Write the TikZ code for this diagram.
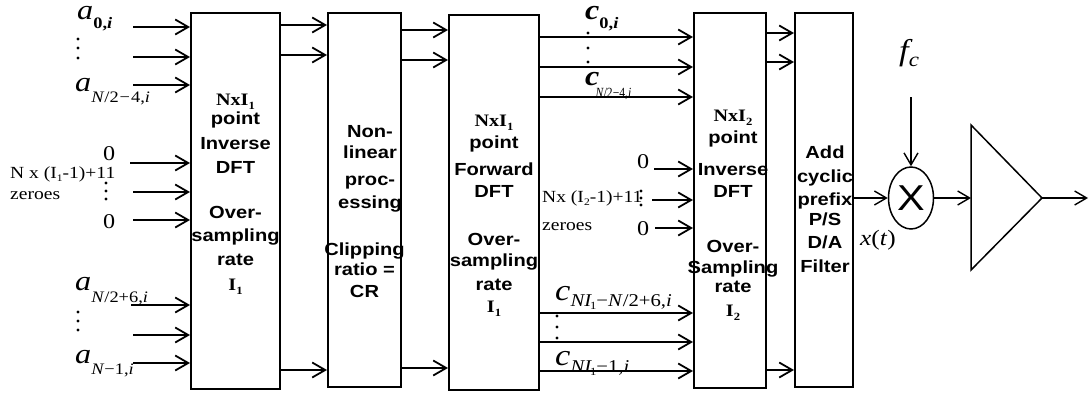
\documentclass[tikz,border=0pt]{standalone}
\usepackage{fontspec}
\setmainfont{Liberation Serif}[FakeStretch=1.15]
\newfontfamily\sansf{Liberation Sans}[FakeStretch=1.15]
\usetikzlibrary{arrows.meta,shapes.geometric}
\newcommand\NxIsub[1]{{\rmfamily\bfseries NxI\raisebox{-4pt}{\fontsize{11}{11}\selectfont #1}}}
\newcommand\Isb[1]{{\rmfamily\bfseries I\raisebox{-4pt}{\fontsize{11}{11}\selectfont #1}}}
\newcommand\biglab[4]{{\fontsize{#1}{#1}\selectfont\itshape #2}\raisebox{-#3pt}{\fontsize{16}{16}\selectfont #4}}
\begin{document}
\begin{tikzpicture}[x=1pt,y=-1pt,
  blk/.style={draw, line width=2pt, inner sep=0pt},
  arr/.style={line width=1.8pt, -{Straight Barb[length=13pt,width=15pt]}},
  arr2/.style={line width=1.4pt, -{Straight Barb[length=12pt,width=14pt]}},
  bt/.style={anchor=base, inner sep=0pt, font=\sansf\bfseries\fontsize{17.5}{20}\selectfont},
  lab/.style={anchor=base west, inner sep=0pt}]
\useasboundingbox (0,0) rectangle (1089,396);
% boxes
\node[blk, minimum width=89pt, minimum height=376pt] (b1) at (235.5,201) {};
\node[blk, minimum width=73pt, minimum height=374pt] (b2) at (364.5,200) {};
\node[blk, minimum width=90pt, minimum height=375pt] (b3) at (494,202.5) {};
\node[blk, minimum width=72pt, minimum height=375pt] (b4) at (730,200.5) {};
\node[blk, minimum width=58pt, minimum height=374pt] (b5) at (824,200) {};
% box texts
\foreach \t/\y [count=\k] in {{\NxIsub{1}}/105, point/124, Inverse/149, DFT/173, Over-/218, sampling/241, rate/265, {\Isb{1}}/290}
  \node[bt] (tA\k) at (235.5,\y) {\t};
\foreach \t/\y [count=\k] in {Non-/137, linear/158, proc-/185, essing/208}
  \node[bt] (tB\k) at (370,\y) {\t};
\foreach \t/\y [count=\k] in {Clipping/255, ratio =/275, CR/297}
  \node[bt] (tC\k) at (364.5,\y) {\t};
\foreach \t/\y [count=\k] in {{\NxIsub{1}}/126, point/148, Forward/175, DFT/197, Over-/245, sampling/266, rate/290, {\Isb{1}}/312}
  \node[bt] (tD\k) at (494,\y) {\t};
\foreach \t/\y [count=\k] in {{\NxIsub{2}}/121, point/143, Inverse/175, DFT/197, Over-/252, Sampling/273, rate/292, {\Isb{2}}/316}
  \node[bt] (tE\k) at (733,\y) {\t};
\foreach \t/\y [count=\k] in {Add/158, cyclic/182, prefix/205, {P/S}/225, {D/A}/248, Filter/272}
  \node[bt] (tF\k) at (825,\y) {\t};
% inputs to box 1
\foreach \y/\x [count=\k] in {27/133,57/133,85/133,163/130,192/133,220/133,305/131,335/133,363/133} {
  \coordinate (in\k) at (\x,\y);
  \draw[arr] (in\k) -- (in\k -| b1.west);
}
% box1 -> box2, box2 -> box3
\foreach \y [count=\k] in {25,55,370} {
  \coordinate (p\k) at (b1.east |- 0,\y);
  \draw[arr] (p\k) -- (p\k -| b2.west);
}
\foreach \y [count=\k] in {30,60,368} {
  \coordinate (q\k) at (b2.east |- 0,\y);
  \draw[arr] (q\k) -- (q\k -| b3.west);
}
% box3 -> box4
\foreach \y [count=\k] in {37,67,97,313,342,371} {
  \coordinate (r\k) at (b3.east |- 0,\y);
  \draw[arr] (r\k) -- (r\k -| b4.west);
}
% zero inputs to box4
\foreach \y/\x [count=\k] in {169/654,200/652,228/655} {
  \coordinate (z\k) at (\x,\y);
  \draw[arr] (z\k) -- (z\k -| b4.west);
}
% box4 -> box5
\foreach \y [count=\k] in {33,62,370} {
  \coordinate (s\k) at (b4.east |- 0,\y);
  \draw[arr] (s\k) -- (s\k -| b5.west);
}
% left labels
\node[lab] (la1) at (77,20) {\biglab{28}{a}{9}{\bfseries 0,\textit{i}}};
\node[lab] (la2) at (75,91) {\biglab{28}{a}{11}{\textit{N}/2\kern1pt\textminus\kern1pt 4,\textit{i}}};
\node[lab] (la3) at (75,290) {\biglab{28}{a}{12}{\textit{N}/2+6,\textit{i}}};
\node[lab] (la4) at (75,363) {\biglab{28}{a}{11}{\textit{N}\textminus1,\textit{i}}};
\node[lab, font=\fontsize{21}{21}\selectfont] (z0a) at (103,160) {0};
\node[lab, font=\fontsize{21}{21}\selectfont] (z0b) at (103,228) {0};
\node[lab, font=\fontsize{17}{17}\selectfont] (zl1) at (10,178) {N x (I\raisebox{-3pt}{\fontsize{10}{10}\selectfont 1}-1)+11};
\node[lab, font=\fontsize{17}{17}\selectfont] (zl2) at (10,199) {zeroes};
% dots
\foreach \x/\y in {78/39,78/48,78/58, 106/183,106/191,106/199, 78/312,78/321,78/330,
                   588/33,588/48,588/62, 557/316,557/327,557/338, 641/191,641/198,641/205}
  \fill (\x,\y) circle (1.7pt);
% c labels
\node[lab] (lc1) at (585,20) {\biglab{28}{\bfseries c}{9}{\bfseries 0,\textit{i}}};
\node[lab] (lc2) at (585,85) {{\fontsize{28}{28}\selectfont\itshape\bfseries c}\kern-4pt\raisebox{-12pt}{\scalebox{0.72}[1]{\fontsize{14}{14}\selectfont\textit{N}/2\textminus4,\textit{i}}}};
\node[lab] (lc3) at (555,300) {{\fontsize{30}{30}\selectfont\itshape c}\raisebox{-6pt}{\fontsize{18}{18}\selectfont\textit{NI}\kern-2pt\raisebox{-3pt}{\fontsize{11}{11}\selectfont 1}\textminus\textit{N}/2+6,\textit{i}}};
\node[lab] (lc4) at (555,365) {{\fontsize{30}{30}\selectfont\itshape c}\raisebox{-7pt}{\fontsize{18}{18}\selectfont\textit{NI}\kern-2pt\raisebox{-3pt}{\fontsize{11}{11}\selectfont 1}\textminus1,\textit{i}}};
% zero labels box4
\node[lab, font=\fontsize{21}{21}\selectfont] (z4a) at (637,168) {0};
\node[lab, font=\fontsize{21}{21}\selectfont] (z4b) at (637,235) {0};
\node[lab, font=\fontsize{17}{17}\selectfont] (zl3) at (542,202) {Nx (I\raisebox{-3pt}{\fontsize{10}{10}\selectfont 2}-1)+11};
\node[lab, font=\fontsize{17}{17}\selectfont] (zl4) at (542,230) {zeroes};
% mixer
\node[draw, ellipse, line width=1.5pt, minimum width=45pt, minimum height=62pt, inner sep=0pt,
      font=\sansf\fontsize{36}{36}\selectfont] (mx) at (911,198) {X};
\node[lab] (fc) at (899,60) {{\fontsize{30}{30}\selectfont\itshape f}\raisebox{-6pt}{\fontsize{20}{20}\selectfont\itshape c}};
\coordinate (fctop) at (911,97);
\draw[arr2] (fctop) -- (mx.north);
\draw[arr2] (b5.east |- mx.west) -- (mx.west);
\node[lab, font=\fontsize{22}{22}\selectfont] (xt) at (860,245) {\textit{x}(\textit{t})};
% amplifier
\coordinate (tA) at (971,125);
\coordinate (tB) at (971,270);
\coordinate (tC) at (1042,198);
\draw[line width=1.5pt, line join=miter] (tA) -- (tB) -- (tC) -- cycle;
\draw[arr2] (mx.east) -- (mx.east -| tA);
\coordinate (out) at (1088,198);
\draw[arr2] (tC) -- (out);
\end{tikzpicture}
\end{document}
